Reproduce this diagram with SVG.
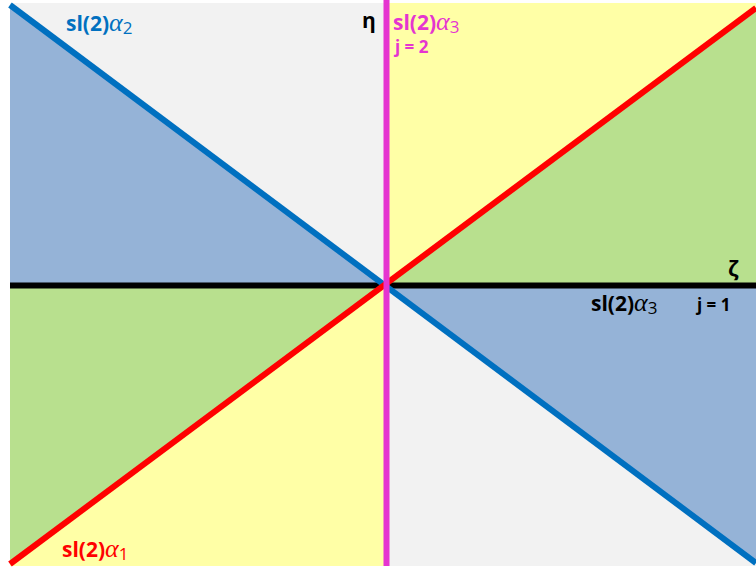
<svg xmlns="http://www.w3.org/2000/svg" width="756" height="571" viewBox="0 0 756 571">
<style>
.lbl{font-family:"Open Sans","Liberation Sans",sans-serif;font-weight:bold;font-size:21px}
.al{font-family:"Liberation Serif",serif;font-style:italic;font-weight:normal;font-size:26px}
.sub{font-family:"Open Sans","Liberation Sans",sans-serif;font-weight:normal;font-size:17px}
.sm{font-family:"Open Sans","Liberation Sans",sans-serif;font-weight:bold;font-size:17px}
</style>
<rect width="756" height="571" fill="#ffffff"/>
<g id="regions">
<polygon points="10,3 386,3 386,285 10,5" fill="#f2f2f2"/>
<polygon points="10,5 386,285 10,285" fill="#95b3d7"/>
<polygon points="386,3 756,3 756,8 386,285" fill="#ffffa6"/>
<polygon points="756,8 756,285 386,285" fill="#b8e08e"/>
<polygon points="386,285 756,285 756,563" fill="#95b3d7"/>
<polygon points="386,285 756,563 756,566 386,566" fill="#f2f2f2"/>
<polygon points="386,285 386,566 10,566 10,564" fill="#ffffa6"/>
<polygon points="10,285 386,285 10,564" fill="#b8e08e"/>
</g>
<g id="connectors" stroke-linecap="butt">
<line id="zeta-axis" x1="10" y1="285.5" x2="756" y2="285.5" stroke="#000000" stroke-width="6"/>
<line id="alpha2" x1="10" y1="5" x2="756" y2="563" stroke="#0070c0" stroke-width="6"/>
<line id="alpha1" x1="10" y1="564" x2="756" y2="8" stroke="#ff0000" stroke-width="6"/>
<line id="eta-axis" x1="386.5" y1="0" x2="386.5" y2="566" stroke="#e535d0" stroke-width="6"/>
</g>
<g id="labels">
<text class="lbl" x="66" y="31" fill="#0070c0">sl(2)<tspan class="al">α</tspan><tspan class="sub" dy="3">2</tspan></text>
<text class="lbl" x="362" y="28" fill="#000000">η</text>
<text class="lbl" x="393" y="30" fill="#e535d0">sl(2)<tspan class="al">α</tspan><tspan class="sub" dy="3">3</tspan></text>
<text class="sm" x="395" y="53" fill="#e535d0">j = 2</text>
<text class="lbl" x="728" y="276" fill="#000000">ζ</text>
<text class="lbl" x="591" y="311" fill="#000000">sl(2)<tspan class="al">α</tspan><tspan class="sub" dy="3">3</tspan></text>
<text class="sm" x="697" y="311" fill="#000000">j = 1</text>
<text class="lbl" x="62" y="557" fill="#ff0000">sl(2)<tspan class="al">α</tspan><tspan class="sub" dy="3">1</tspan></text>
</g>
</svg>
